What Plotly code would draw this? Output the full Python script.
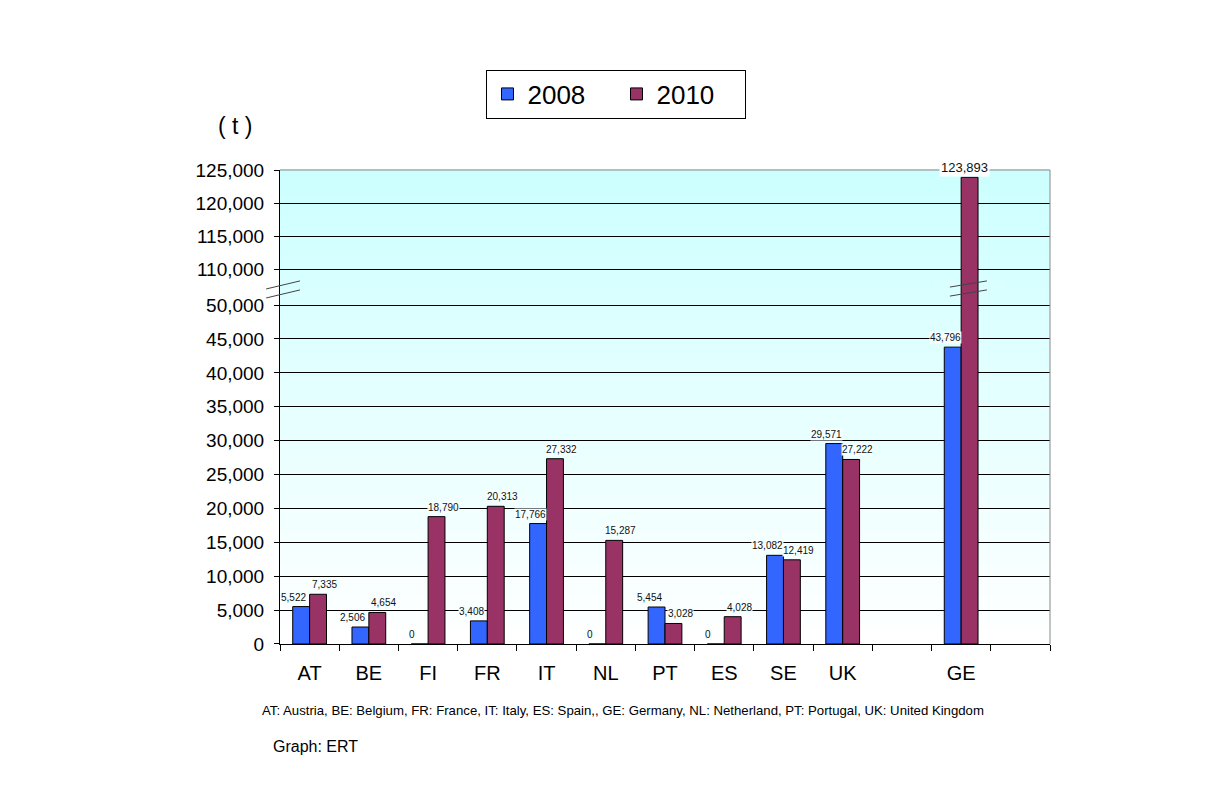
import plotly.graph_objects as go

categories = ["AT", "BE", "FI", "FR", "IT", "NL", "PT", "ES", "SE", "UK", " ", "GE", "  "]
values_2008 = [5522, 2506, 0, 3408, 17766, 0, 5454, 0, 13082, 29571, None, 43796, None]
values_2010 = [7335, 4654, 18790, 20313, 27332, 15287, 3028, 4028, 12419, 27222, None, 123893, None]
lower_ticks = [0, 5000, 10000, 15000, 20000, 25000, 30000, 35000, 40000, 45000, 50000]
upper_ticks = [110000, 115000, 120000, 125000]
lower_range = [0, 52655]
upper_range = [107273, 125000]

BLUE = "#3366FF"
MAROON = "#993366"
FONT = "Arial, Liberation Sans, sans-serif"


def fmt(v):
    return "" if v is None else f"{v:,}"


fig = go.Figure()
line = dict(color="black", width=1)

fig.add_trace(go.Bar(name="2008", x=categories, y=values_2008, marker=dict(color=BLUE, line=line),
                     xaxis="x", yaxis="y"))
fig.add_trace(go.Bar(name="2010", x=categories, y=values_2010, marker=dict(color=MAROON, line=line),
                     xaxis="x", yaxis="y"))
# upper (broken) segment
fig.add_trace(go.Bar(name="2008", x=categories, y=values_2008, marker=dict(color=BLUE, line=line),
                     showlegend=False, xaxis="x", yaxis="y2"))
fig.add_trace(go.Bar(name="2010", x=categories, y=values_2010, marker=dict(color=MAROON, line=line),
                     showlegend=False, xaxis="x", yaxis="y2"))

split = 0.753
shapes = []
# gradient background (light cyan at top to white at bottom)
n = 60
for i in range(n):
    t = (i + 0.5) / n
    r = int(round(255 - (255 - 204) * t))
    c = f"rgb({r},255,255)"
    shapes.append(dict(type="rect", xref="paper", yref="paper", x0=0, x1=1,
                       y0=i / n, y1=(i + 1) / n + 0.002, fillcolor=c, line=dict(width=0), layer="below"))
# break box on GE bar
shapes.append(dict(type="rect", xref="paper", yref="paper", x0=0.849, x1=0.939, y0=0.716, y1=0.77,
                   fillcolor="rgb(218,255,255)", line=dict(width=0), layer="between"))
# break slashes on axis
for dy in (0.0, -0.019):
    shapes.append(dict(type="line", xref="paper", yref="paper", x0=-0.018, x1=0.026,
                       y0=0.749 + dy, y1=0.766 + dy, line=dict(color="#444444", width=1)))
    shapes.append(dict(type="line", xref="paper", yref="paper", x0=0.870, x1=0.918,
                       y0=0.753 + dy, y1=0.766 + dy, line=dict(color="#444444", width=1)))
# gray frame top/right
shapes.append(dict(type="line", xref="paper", yref="paper", x0=0, x1=1, y0=1, y1=1,
                   line=dict(color="#888888", width=1)))
shapes.append(dict(type="line", xref="paper", yref="paper", x0=1, x1=1, y0=0, y1=1,
                   line=dict(color="#888888", width=1)))

annotations = []
# value labels (lower segment)
for series, xshift in ((values_2008, -16), (values_2010, 15)):
    for cat, v in zip(categories, series):
        if v is None or v > lower_range[1]:
            continue
        annotations.append(dict(x=cat, y=v, xref="x", yref="y", text=fmt(v), showarrow=False,
                                xshift=xshift, yshift=3, xanchor="center", yanchor="bottom",
                                bgcolor="rgba(246,255,255,0.95)", borderpad=0,
                                font=dict(size=10, family=FONT, color="#111111")))
# value label (upper segment)
annotations.append(dict(x="GE", y=values_2010[11], xref="x", yref="y2", text=fmt(values_2010[11]),
                        showarrow=False, xshift=3, yshift=0, xanchor="center", yanchor="bottom",
                        bgcolor="white", font=dict(size=13, family=FONT, color="#111111"), borderpad=1))
annotations += [
    dict(x=-0.058, y=1.093, xref="paper", yref="paper", text="( t )", showarrow=False,
         xanchor="center", yanchor="middle", font=dict(size=23, family=FONT, color="black")),
    dict(x=0.445, y=-0.141, xref="paper", yref="paper", text="AT: Austria, BE: Belgium, FR: France, IT: Italy, ES: Spain,, GE: Germany, NL: Netherland, PT: Portugal, UK: United Kingdom",
         showarrow=False, xanchor="center", yanchor="middle", font=dict(size=13.2, family=FONT, color="black")),
    dict(x=-0.0117, y=-0.217, xref="paper", yref="paper", text="Graph: ERT", showarrow=False,
         xanchor="left", yanchor="middle", font=dict(size=16, family=FONT, color="black")),
]

yaxis_common = dict(showgrid=True, gridcolor="black", gridwidth=1, showline=True, linecolor="black",
                    ticks="outside", ticklen=5, tickcolor="black", zeroline=False,
                    tickfont=dict(size=19, family=FONT, color="black"), tickformat=",d",
                    ticklabelstandoff=6, tickmode="array")

fig.update_layout(
    width=1215, height=777,
    margin=dict(l=272, r=173, t=162, b=141),
    paper_bgcolor="white", plot_bgcolor="rgba(0,0,0,0)",
    barmode="group", bargap=0.43, bargroupgap=0,
    font=dict(family=FONT, color="black"),
    xaxis=dict(type="category", categoryorder="array", categoryarray=categories,
               showline=True, linecolor="black", ticks="outside", ticklen=6, tickcolor="black",
               tickson="boundaries", tickfont=dict(size=20, family=FONT, color="black"),
               ticklabelstandoff=11, anchor="y", showgrid=False),
    yaxis=dict(domain=[0, split], range=lower_range, tickvals=lower_ticks, **yaxis_common),
    yaxis2=dict(domain=[split, 1], range=upper_range, tickvals=upper_ticks, anchor="x", **yaxis_common),
    legend=dict(orientation="h", x=0.437, xanchor="center", y=1.212, yanchor="top",
                bordercolor="black", borderwidth=1, bgcolor="white",
                font=dict(size=26, family=FONT, color="black"), entrywidth=84),
    shapes=shapes, annotations=annotations, showlegend=True,
)

fig.write_html("out.html")
